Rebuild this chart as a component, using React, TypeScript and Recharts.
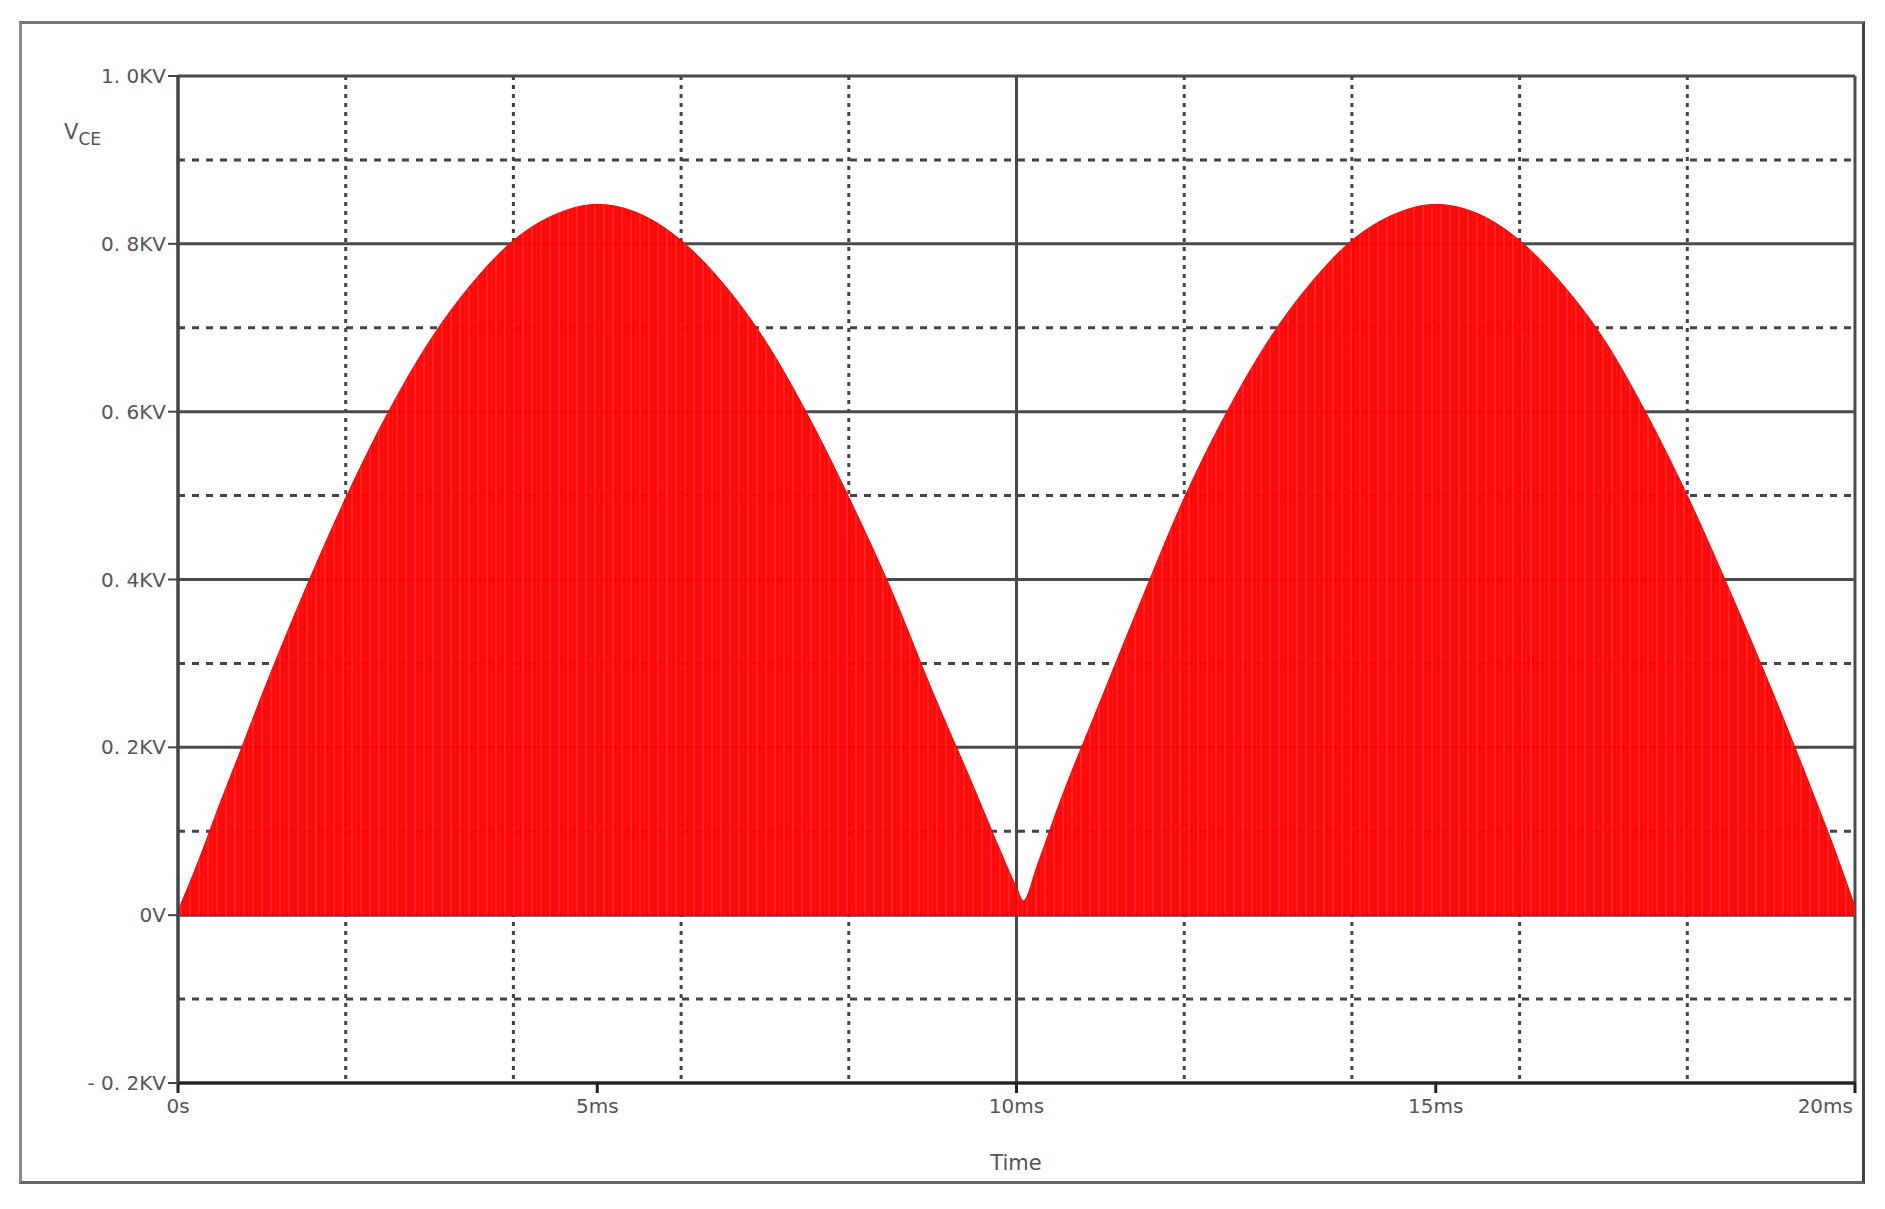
import React from "react";
import { AreaChart, Area, XAxis, YAxis, CartesianGrid } from "recharts";

// Time in ms
const times = [
  0, 0.25, 0.5, 0.75, 1, 1.5, 2, 2.5, 3, 3.5, 4, 4.5, 5, 5.5, 6, 6.5, 7, 7.5, 8, 8.5, 9, 9.5, 9.75, 10,
  10.08, 10.25, 10.5, 11, 11.5, 12, 12.5, 13, 13.5, 14, 14.5, 15, 15.5, 16, 16.5, 17, 17.5, 18, 18.5, 19,
  19.5, 19.75, 20,
];
// V_CE envelope in kV
const vce = [
  0.005, 0.066, 0.133, 0.197, 0.262, 0.384, 0.497, 0.598, 0.684, 0.752, 0.804, 0.835, 0.847, 0.836, 0.804,
  0.753, 0.685, 0.598, 0.498, 0.389, 0.266, 0.15, 0.09, 0.033, 0.017, 0.06, 0.13, 0.255, 0.378, 0.497, 0.598,
  0.684, 0.752, 0.804, 0.835, 0.847, 0.836, 0.804, 0.753, 0.687, 0.6, 0.5, 0.388, 0.27, 0.145, 0.08,
  0.01,
];

const xTicks = [0, 5, 10, 15, 20];
const xTickLabels = ["0s", "5ms", "10ms", "15ms", "20ms"];
const yTicks = [-0.2, 0, 0.2, 0.4, 0.6, 0.8, 1.0];
const yTickLabels = ["- 0. 2KV", "0V", "0. 2KV", "0. 4KV", "0. 6KV", "0. 8KV", "1. 0KV"];
const xMajorGrid = [0, 10, 20];
const xMinorGrid = [2, 4, 6, 8, 12, 14, 16, 18];
const yMajorGrid = [-0.2, 0, 0.2, 0.4, 0.6, 0.8, 1.0];
const yMinorGrid = [-0.1, 0.1, 0.3, 0.5, 0.7, 0.9];

const data = times.map((t, i) => ({ t, v: vce[i] }));

const FONT = "'DejaVu Sans', Verdana, sans-serif";

const XTick = (props: any) => {
  const { x, y, payload } = props;
  const idx = xTicks.indexOf(payload.value);
  const label = idx >= 0 ? xTickLabels[idx] : "";
  const last = payload.value === xTicks[xTicks.length - 1];
  return (
    <text
      x={last ? x - 2 : x}
      y={y}
      dy="0.71em"
      textAnchor={last ? "end" : "middle"}
      fill="#555"
      fontSize={20}
      fontFamily={FONT}
    >
      {label}
    </text>
  );
};

const YTick = (props: any) => {
  const { x, y, payload } = props;
  let idx = -1;
  yTicks.forEach((v, i) => {
    if (Math.abs(v - payload.value) < 1e-6) idx = i;
  });
  const label = idx >= 0 ? yTickLabels[idx] : "";
  return (
    <text x={x} y={y} dy="0.35em" textAnchor="end" fill="#555" fontSize={20} fontFamily={FONT}>
      {label}
    </text>
  );
};

export default function App() {
  return (
    <div style={{ position: "absolute", left: 0, top: 0, width: 1885, height: 1209, background: "#fff" }}>
      <svg width="0" height="0" style={{ position: "absolute" }}>
        <defs>
          <pattern id="redStripes" patternUnits="userSpaceOnUse" width="9" height="10">
            <rect x="0" y="0" width="9" height="10" fill="#ff0000" />
            <rect x="0" y="0" width="2" height="10" fill="#ff1c1c" />
            <rect x="5" y="0" width="1" height="10" fill="#ff1010" />
          </pattern>
        </defs>
      </svg>
      <div
        style={{
          position: "absolute",
          left: 19,
          top: 21,
          width: 1846,
          height: 1163,
          boxSizing: "border-box",
          borderTop: "3px solid #777",
          borderLeft: "3px solid #888",
          borderRight: "3px solid #444",
          borderBottom: "3px solid #666",
        }}
      />
      <div style={{ position: "absolute", left: 0, top: 0 }}>
        <AreaChart
          width={1885}
          height={1209}
          data={data}
          margin={{ top: 76, right: 30, bottom: 86, left: 0 }}
        >
          <CartesianGrid
            horizontal={false}
            vertical={true}
            verticalValues={xMinorGrid}
            stroke="#444"
            strokeWidth={3}
            strokeDasharray="4 5"
          />
          <CartesianGrid
            horizontal={true}
            vertical={false}
            horizontalValues={yMinorGrid}
            stroke="#444"
            strokeWidth={3}
            strokeDasharray="7 7"
          />
          <CartesianGrid
            horizontal={true}
            vertical={true}
            horizontalValues={yMajorGrid}
            verticalValues={xMajorGrid}
            stroke="#4a4a4a"
            strokeWidth={3}
          />
          <XAxis
            dataKey="t"
            type="number"
            domain={[0, 20]}
            ticks={xTicks}
            interval={0}
            height={40}
            tickSize={10}
            tickMargin={6}
            axisLine={{ stroke: "#222", strokeWidth: 3 }}
            tickLine={{ stroke: "#222", strokeWidth: 3 }}
            tick={<XTick />}
            allowDataOverflow
          />
          <YAxis
            type="number"
            domain={[-0.2, 1.0]}
            ticks={yTicks}
            interval={0}
            width={178}
            tickSize={10}
            tickMargin={2}
            axisLine={{ stroke: "#444", strokeWidth: 3 }}
            tickLine={{ stroke: "#444", strokeWidth: 2 }}
            tick={<YTick />}
            allowDataOverflow
          />
          <Area
            dataKey="v"
            type="monotone"
            baseValue={0}
            stroke="#ff0000"
            strokeWidth={1}
            fill="url(#redStripes)"
            fillOpacity={0.97}
            isAnimationActive={false}
            dot={false}
            activeDot={false}
          />
        </AreaChart>
      </div>
      <div
        style={{
          position: "absolute",
          left: 64,
          top: 122,
          fontFamily: FONT,
          fontSize: 21,
          color: "#555",
          lineHeight: 1,
        }}
      >
        V<sub style={{ fontSize: 17, verticalAlign: "-6px" }}>CE</sub>
      </div>
      <div
        style={{
          position: "absolute",
          left: 1016,
          top: 1153,
          transform: "translateX(-50%)",
          fontFamily: FONT,
          fontSize: 21,
          color: "#555",
          lineHeight: 1,
          whiteSpace: "nowrap",
        }}
      >
        Time
      </div>
    </div>
  );
}
